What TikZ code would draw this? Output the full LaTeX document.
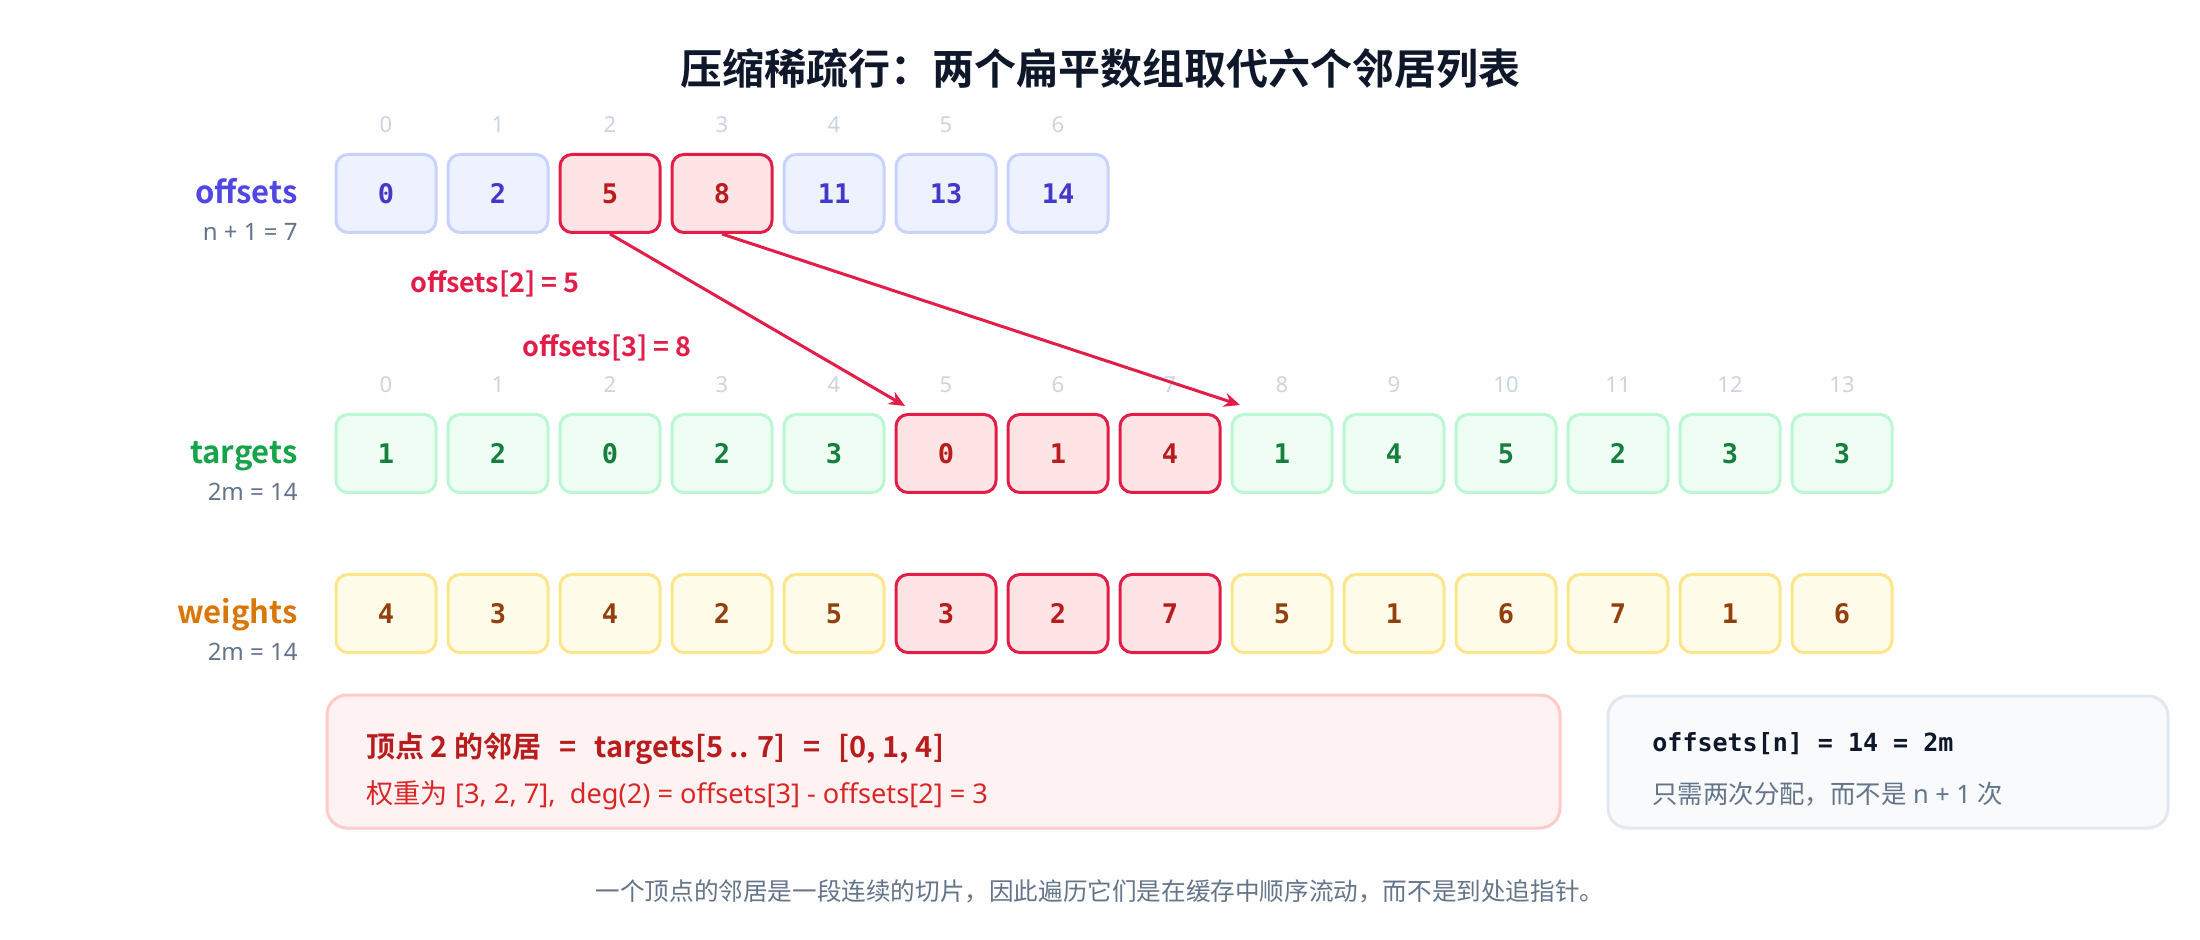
\documentclass[tikz,border=0pt]{standalone}
\usepackage{fontspec}
\setmainfont{Noto Sans}[BoldFont={Noto Sans CJK SC Bold}]
\newfontfamily\cjk{Noto Sans CJK SC}
\newfontfamily\cjkb{Noto Sans CJK SC Bold}
\newfontfamily\mono{DejaVu Sans Mono}
\usetikzlibrary{arrows.meta}
\definecolor{titlec}{HTML}{0F172A}
\definecolor{idxc}{HTML}{CBD5E1}
\definecolor{subc}{HTML}{64748B}
\definecolor{offfill}{HTML}{EEF2FF}
\definecolor{offline}{HTML}{C7D2FE}
\definecolor{offtext}{HTML}{4338CA}
\definecolor{offlab}{HTML}{4F46E5}
\definecolor{tgtfill}{HTML}{F0FDF4}
\definecolor{tgtline}{HTML}{BBF7D0}
\definecolor{tgttext}{HTML}{15803D}
\definecolor{tgtlab}{HTML}{16A34A}
\definecolor{wgtfill}{HTML}{FEFCE8}
\definecolor{wgtline}{HTML}{FDE68A}
\definecolor{wgttext}{HTML}{92400E}
\definecolor{wgtlab}{HTML}{D97706}
\definecolor{hlfill}{HTML}{FFE4E6}
\definecolor{hlline}{HTML}{E11D48}
\definecolor{hltext}{HTML}{B91C1C}
\definecolor{notefill}{HTML}{FEF2F2}
\definecolor{noteline}{HTML}{FECACA}
\definecolor{notesub}{HTML}{DC2626}
\definecolor{grayfill}{HTML}{F8FAFC}
\definecolor{grayline}{HTML}{E2E8F0}
\begin{document}
\begin{tikzpicture}[x=0.5pt,y=-0.5pt,
  cell/.style={draw, rounded corners=6pt, line width=1.5pt, minimum width=50pt,
    minimum height=39pt, inner sep=0pt, font=\mono\bfseries\fontsize{13.5}{15}\selectfont},
  off/.style={cell, fill=offfill, draw=offline, text=offtext},
  tgt/.style={cell, fill=tgtfill, draw=tgtline, text=tgttext},
  wgt/.style={cell, fill=wgtfill, draw=wgtline, text=wgttext},
  hl/.style={cell, fill=hlfill, draw=hlline, text=hltext},
  idx/.style={anchor=base, inner sep=0pt, text=idxc, font=\fontsize{11}{13}\selectfont},
  rowlab/.style={anchor=base east, inner sep=0pt, font=\bfseries\fontsize{15.5}{17}\selectfont},
  rowsub/.style={anchor=base east, inner sep=0pt, text=subc, font=\fontsize{12}{14}\selectfont},
  conn/.style={draw=hlline, line width=1.5pt, -{Stealth[length=8pt,width=7pt]}},
  ptrlab/.style={anchor=base, inner sep=0pt, text=hlline, font=\bfseries\fontsize{13.5}{15}\selectfont},
  panel/.style={rounded corners=10pt, line width=1.5pt},
  txt/.style={anchor=base west, inner sep=0pt}
]
\useasboundingbox (0,0) rectangle (2200,940);
\fill[white] (0,0) rectangle (2200,940);

% title
\node[inner sep=0pt, text=titlec, font=\cjkb\fontsize{21}{24}\selectfont] (title) at (1100,69)
  {压缩稀疏行：两个扁平数组取代六个邻居列表};

% offsets row
\node[rowlab, text=offlab] (lo) at (298,204) {offsets};
\node[rowsub] (lon) at (298,241) {n + 1 = 7};
\foreach \s/\v [count=\i from 0] in {off/0,off/2,hl/5,hl/8,off/11,off/13,off/14}{
  \node[\s] (o\i) at (386+112*\i,193.5) {\v};
  \node[idx] (oi\i) at (386+112*\i,133) {\i};
}

% targets row
\node[rowlab, text=tgtlab] (lt) at (298,464) {targets};
\node[rowsub] (ltn) at (298,501) {2m = 14};
\foreach \s/\v [count=\i from 0] in {tgt/1,tgt/2,tgt/0,tgt/2,tgt/3,hl/0,hl/1,hl/4,tgt/1,tgt/4,tgt/5,tgt/2,tgt/3,tgt/3}{
  \node[\s] (t\i) at (386+112*\i,453.5) {\v};
  \node[idx] (ti\i) at (386+112*\i,393) {\i};
}

% weights row
\node[rowlab, text=wgtlab] (lw) at (298,624) {weights};
\node[rowsub] (lwn) at (298,661) {2m = 14};
\foreach \s/\v [count=\i from 0] in {wgt/4,wgt/3,wgt/4,wgt/2,wgt/5,hl/3,hl/2,hl/7,wgt/5,wgt/1,wgt/6,wgt/7,wgt/1,wgt/6}{
  \node[\s] (w\i) at (386+112*\i,613.5) {\v};
}

% pointer arrows
\coordinate (tip5) at (905,406);
\coordinate (tip8) at (1240,405);
\draw[conn] (o2.south) -- (tip5);
\draw[conn] (o3.south) -- (tip8);
\node[ptrlab] (p2) at (495,293) {offsets[2] = 5};
\node[ptrlab] (p3) at (607,357) {offsets[3] = 8};

% note panel
\draw[panel, fill=notefill, draw=noteline] (327,695) rectangle (1560,828);
\node[txt, text=hltext, font=\cjkb\fontsize{14.5}{16}\selectfont] (n1) at (366,757)
  {顶点 2 的邻居\hspace{9pt}=\hspace{9pt}targets[5 .. 7]\hspace{9pt}=\hspace{9pt}[0, 1, 4]};
\node[txt, text=notesub, font=\fontsize{13.6}{15}\selectfont] (n2) at (366,803)
  {{\cjk 权重为} [3, 2, 7],\ \ deg(2) = offsets[3] - offsets[2] = 3};

% gray panel
\draw[panel, fill=grayfill, draw=grayline] (1608,696) rectangle (2168,828);
\node[txt, text=titlec, font=\mono\bfseries\fontsize{12.5}{14}\selectfont] (g1) at (1652,751)
  {offsets[n] = 14 = 2m};
\node[txt, text=subc, font=\fontsize{12.7}{14}\selectfont] (g2) at (1652,803)
  {{\cjk 只需两次分配，而不是} n + 1 {\cjk 次}};

% caption
\node[anchor=base, inner sep=0pt, text=subc, font=\cjk\fontsize{12.3}{14}\selectfont] (cap) at (1100,900)
  {一个顶点的邻居是一段连续的切片，因此遍历它们是在缓存中顺序流动，而不是到处追指针。};
\end{tikzpicture}
\end{document}
